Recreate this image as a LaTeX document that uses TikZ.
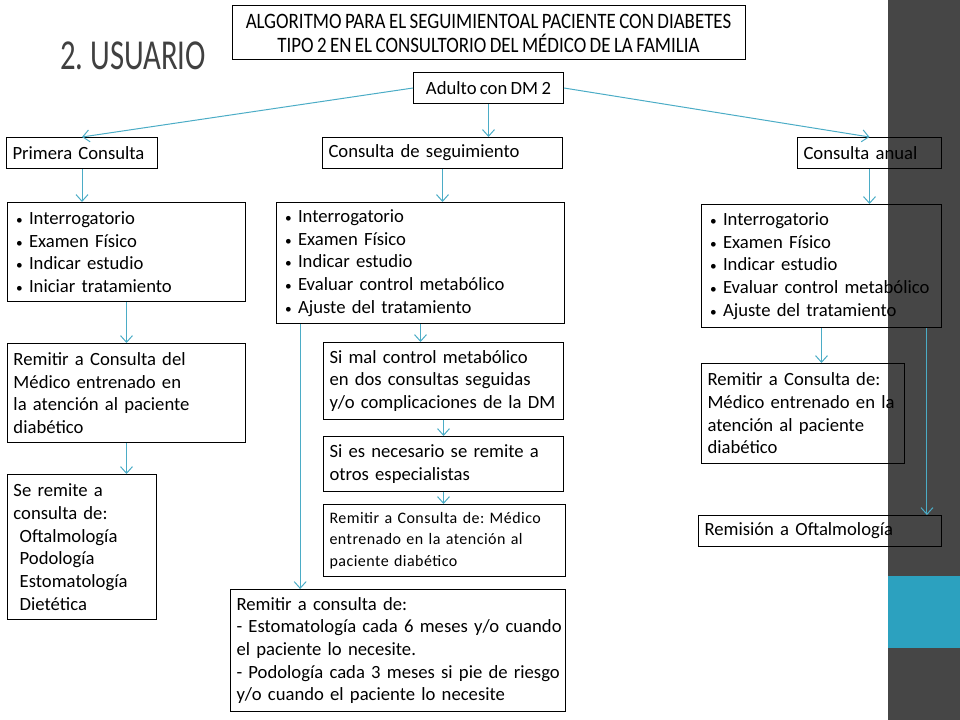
\documentclass[tikz,border=0pt]{standalone}
\usepackage{fontspec}
\setmainfont{Carlito}[WordSpace=0.8]
\newfontfamily\headfont[FakeStretch=0.72]{Carlito}
\newfontfamily\titlefont[FakeStretch=0.86, WordSpace=0.8]{Carlito}
\newfontfamily\spacedfont[LetterSpace=3]{Carlito}
\usetikzlibrary{arrows.meta, calc, positioning}
\definecolor{flowline}{HTML}{4BACC6}
\definecolor{bandgray}{HTML}{464646}
\definecolor{bandteal}{HTML}{2CA1BF}
\definecolor{headgray}{HTML}{404040}
\newcommand{\dotitem}{\hspace*{2pt}{\fontsize{10}{10}\selectfont\textbullet}\ }
\tikzstyle{block} = [rectangle, draw=black, line width=0.75pt, anchor=north west, align=left, inner xsep=4.5pt, inner ysep=2pt, font=\fontsize{14}{17}\selectfont]
\tikzstyle{arrow} = [draw=flowline, line width=0.75pt, -{Straight Barb[length=5pt,width=9pt]}]

\begin{document}
\frenchspacing
\begin{tikzpicture}[x=0.75pt, y=-0.75pt]
		\useasboundingbox (0,0) rectangle (960,720);
		\fill[bandgray] (888,0) rectangle (960,720);
		\fill[bandteal] (888,576) rectangle (960,648);
		\node (Usuario) [text=headgray, font=\headfont\fontsize{32}{32}\selectfont] at (133,56) {2. USUARIO};
		\node (Title) [block, anchor=center, align=center, minimum width=384.75pt, minimum height=40.5pt, font=\titlefont\fontsize{16.5}{18}\selectfont] at (488.5,33) {ALGORITMO PARA EL SEGUIMIENTOAL PACIENTE CON DIABETES\\TIPO 2 EN EL CONSULTORIO DEL MÉDICO DE LA FAMILIA};
		\node (Adulto) [block, align=center, minimum width=112.5pt, minimum height=23.25pt] at (413,72) {Adulto con DM 2};
		\node (Primera) [block, text width=104.25pt, minimum height=23.25pt] at (6,137) {Primera Consulta};
		\node (Seguimiento) [block, text width=171pt, minimum height=23.25pt] at (322,137) {Consulta de seguimiento};
		\node (Anual) [block, text width=99pt, minimum height=23.25pt] at (797,137) {Consulta anual};
		% first visit
		\node (PrimeraList) [block, text width=169.5pt, minimum height=74.25pt] at (7,202) {\dotitem Interrogatorio\\\dotitem Examen Físico\\\dotitem Indicar estudio\\\dotitem Iniciar tratamiento};
		\node (PrimeraRemitir) [block, text width=169.5pt, minimum height=74.25pt] at (7,343) {Remitir a Consulta del\\Médico entrenado en\\la atención al paciente\\diabético};
		\node (Especialidades) [block, text width=102.75pt, minimum height=108.75pt] at (7,474) {Se remite a\\consulta de:\\~Oftalmología\\~Podología\\~Estomatología\\~Dietética};
		% follow-up visit
		\node (SeguimientoList) [block, text width=207pt, minimum height=90.75pt] at (276,202) {\dotitem Interrogatorio\\\dotitem Examen Físico\\\dotitem Indicar estudio\\\dotitem Evaluar control metabólico\\\dotitem Ajuste del tratamiento};
		\node (MalControl) [block, text width=171pt, minimum height=57.75pt] at (323,342) {Si mal control metabólico\\en dos consultas seguidas\\y/o complicaciones de la DM};
		\node (Especialistas) [block, text width=171pt, minimum height=41.25pt] at (323,436) {Si es necesario se remite a\\otros especialistas};
		\node (SeguimientoRemitir) [block, text width=172.5pt, minimum height=54pt, font=\spacedfont\fontsize{12}{16}\selectfont] at (323,504) {Remitir a Consulta de: Médico\\entrenado en la atención al\\paciente diabético};
		\node (Remision) [block, text width=242.25pt, minimum height=91.5pt] at (230,589) {Remitir a consulta de:\\\mbox{- Estomatología cada 6 meses y/o cuando}\\el paciente lo necesite.\\\mbox{- Podología cada 3 meses si pie de riesgo}\\y/o cuando el paciente lo necesite};
		% yearly visit
		\node (AnualList) [block, text width=171pt, minimum height=92.25pt] at (701,204) {\dotitem Interrogatorio\\\dotitem Examen Físico\\\dotitem Indicar estudio\\\dotitem Evaluar control metabólico\\\dotitem Ajuste del tratamiento};
		\node (AnualRemitir) [block, text width=143.25pt, minimum height=75pt] at (701,363) {Remitir a Consulta de:\\\mbox{Médico entrenado en la}\\atención al paciente\\diabético};
		\node (Oftalmologia) [block, text width=173.25pt, minimum height=23.25pt] at (698,515) {Remisión a Oftalmología};
		\path (SeguimientoList.south west) -- (SeguimientoList.south) coordinate[pos=0.167] (SeguimientoLeft);
		\path (AnualList.south east) -- (AnualList.south) coordinate[pos=0.125] (AnualRight);
		\draw [arrow] (Adulto.west) -- (Primera.north);
		\draw [arrow] (Adulto.south) -- (Adulto.south |- Seguimiento.north);
		\draw [arrow] (Adulto.east) -- (Anual.north);
		\draw [arrow] (Primera.south) -- (Primera.south |- PrimeraList.north);
		\draw [arrow] (Seguimiento.south) -- (Seguimiento.south |- SeguimientoList.north);
		\draw [arrow] (Anual.south) -- (Anual.south |- AnualList.north);
		\draw [arrow] (PrimeraList.south) -- (PrimeraRemitir.north);
		\draw [arrow] (PrimeraRemitir.south) -- (PrimeraRemitir.south |- Especialidades.north);
		\draw [arrow] (SeguimientoList.south) -- (SeguimientoList.south |- MalControl.north);
		\draw [arrow] (SeguimientoLeft) -- (SeguimientoLeft |- Remision.north);
		\draw [arrow] (MalControl.south) -- (MalControl.south |- Especialistas.north);
		\draw [arrow] (Especialistas.south) -- (Especialistas.south |- SeguimientoRemitir.north);
		\draw [arrow] (AnualList.south) -- (AnualList.south |- AnualRemitir.north);
		\draw [arrow] (AnualRight) -- (AnualRight |- Oftalmologia.north);
	\end{tikzpicture}
\end{document}
